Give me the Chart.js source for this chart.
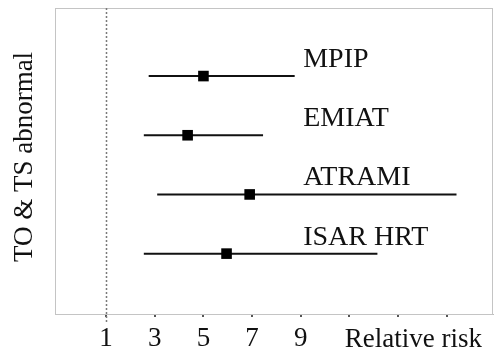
<!DOCTYPE html>
<html>
<head>
<meta charset="utf-8">
<script src="https://cdn.jsdelivr.net/npm/chart.js@4/dist/chart.umd.min.js"></script>
<style>
  html, body { margin: 0; padding: 0; background: #fff; }
  #wrap { width: 494px; height: 354px; }
</style>
</head>
<body>
<div id="wrap"><canvas id="c"></canvas></div>
<script>
// Studies, top to bottom, with relative risk and 95% CI
const studies = ['MPIP', 'EMIAT', 'ATRAMI', 'ISAR HRT'];
const rowPos = [4, 3, 2, 1];
const relRisk = [5.0, 4.35, 6.9, 5.95];
const ciLower = [2.75, 2.55, 3.1, 2.55];
const ciUpper = [8.75, 7.45, 15.4, 12.15];
const tickValues = [1, 3, 5, 7, 9, 11, 13, 15];
const labelledTicks = [1, 3, 5, 7, 9];
const xTitle = 'Relative risk';
const yTitle = 'TO & TS abnormal';
const refValue = 1;

const FONT = '"Liberation Serif", "Times New Roman", serif';
const INK = '#111';

const forestPlugin = {
  id: 'forest',
  beforeDatasetsDraw(chart) {
    const { ctx, chartArea: a, scales: { x, y } } = chart;
    ctx.save();
    // plot frame
    ctx.strokeStyle = '#c4c4c4';
    ctx.lineWidth = 1;
    ctx.strokeRect(a.left + 0.5, a.top + 0.5, a.right - a.left - 1, a.bottom - a.top);
    // no-effect reference line
    const rx = Math.round(x.getPixelForValue(refValue)) + 0.5;
    ctx.strokeStyle = '#7a7a7a';
    ctx.lineWidth = 1.5;
    ctx.setLineDash([2, 2]);
    ctx.beginPath();
    ctx.moveTo(rx, a.top);
    ctx.lineTo(rx, a.bottom + 9);
    ctx.stroke();
    ctx.setLineDash([]);
    // confidence intervals
    ctx.strokeStyle = '#111';
    ctx.lineWidth = 2;
    studies.forEach((s, i) => {
      const py = y.getPixelForValue(rowPos[i]);
      ctx.beginPath();
      ctx.moveTo(x.getPixelForValue(ciLower[i]), py);
      ctx.lineTo(x.getPixelForValue(ciUpper[i]), py);
      ctx.stroke();
    });
    ctx.restore();
  },
  afterDraw(chart) {
    const { ctx, chartArea: a, scales: { x, y } } = chart;
    ctx.save();
    ctx.fillStyle = INK;
    ctx.font = '28px ' + FONT;
    ctx.textBaseline = 'alphabetic';
    ctx.textAlign = 'left';
    const labelX = x.getPixelForValue(9.1);
    studies.forEach((s, i) => {
      const py = y.getPixelForValue(rowPos[i]);
      ctx.fillText(s, labelX, py - 9);
    });
    ctx.font = '27px ' + FONT;
    // x-axis caption beside tick labels
    ctx.textAlign = 'right';
    ctx.fillText(xTitle, 482, 347);
    // y-axis caption
    ctx.translate(32, 157);
    ctx.rotate(-Math.PI / 2);
    ctx.textAlign = 'center';
    ctx.fillText(yTitle, 0, 0);
    ctx.restore();
  }
};

new Chart(document.getElementById('c'), {
  type: 'scatter',
  data: {
    datasets: [{
      data: relRisk.map((v, i) => ({ x: v, y: rowPos[i] })),
      pointStyle: 'rect',
      pointRadius: 7.5,
      backgroundColor: '#000',
      borderColor: '#000',
      borderWidth: 0
    }]
  },
  options: {
    responsive: true,
    maintainAspectRatio: false,
    animation: false,
    layout: { autoPadding: false, padding: { left: 55, top: 8, right: 1, bottom: 0 } },
    plugins: { legend: { display: false }, tooltip: { enabled: false } },
    scales: {
      x: {
        type: 'linear',
        min: -1.1,
        max: 16.9,
        afterBuildTicks(scale) { scale.ticks = tickValues.map(v => ({ value: v })); },
        afterFit(scale) { scale.height = 40; scale.paddingLeft = 0; scale.paddingRight = 0; },
        ticks: {
          autoSkip: false,
          maxRotation: 0,
          padding: 6,
          color: INK,
          font: { family: FONT, size: 27 },
          callback: v => labelledTicks.includes(v) ? String(v) : ''
        },
        grid: { drawOnChartArea: false, drawTicks: true, tickLength: 3, color: '#555', lineWidth: 2 },
        border: { display: true, color: '#bdbdbd', width: 1 }
      },
      y: {
        type: 'linear',
        display: false,
        min: -0.02,
        max: 5.15
      }
    }
  },
  plugins: [forestPlugin]
});
</script>
</body>
</html>
